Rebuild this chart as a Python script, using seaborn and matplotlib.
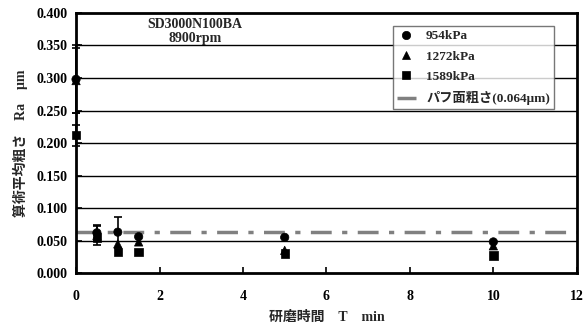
import numpy as np
import pandas as pd
import matplotlib
matplotlib.use("Agg")
import matplotlib.pyplot as plt
import seaborn as sns

sns.set_theme(style="white")
plt.rcParams['font.family'] = ['Liberation Serif', 'Noto Sans CJK JP']
plt.rcParams['font.weight'] = 'bold'

# データ
tiempo = [0, 0.5, 1, 1.5, 5, 10]
ra954 = [0.298, 0.062, 0.063, 0.056, 0.055, 0.048]
err954 = [0.052, 0.012, 0.024, 0.0, 0.0, 0.0]
ra1272 = [0.296, 0.058, 0.045, 0.048, 0.035, 0.042]
err1272 = [0.05, 0.015, 0.0, 0.0, 0.0, 0.0]
ra1589 = [0.212, 0.055, 0.033, 0.032, 0.030, 0.027]
err1589 = [0.016, 0.0, 0.0, 0.0, 0.0, 0.0]
series = ["954kPa", "1272kPa", "1589kPa"]
bufRa = 0.064
bufLabel = "パフ面粗さ(0.064μm)"

df = pd.DataFrame({
    'T': tiempo * 3,
    'Ra': ra954 + ra1272 + ra1589,
    'err': err954 + err1272 + err1589,
    'cond': [s for s in series for _ in tiempo],
})

fig = plt.figure(figsize=(5.85, 3.24), dpi=100)
ax = fig.add_axes([0.13, 0.157, 0.856, 0.803])

for y in np.arange(0.05, 0.40, 0.05):
    ax.axhline(y, color='black', lw=1.0, zorder=1)

sub = df[df['err'] > 0]
eb = ax.errorbar(sub['T'], sub['Ra'], yerr=sub['err'], fmt='none', ecolor='black',
                 elinewidth=1.2, capsize=3, capthick=1.2, zorder=3)
for art in eb.lines[1] + eb.lines[2]:
    art.set_clip_on(False)

sns.scatterplot(data=df, x='T', y='Ra', style='cond', style_order=series,
                markers={"954kPa": 'o', "1272kPa": '^', "1589kPa": 's'},
                color='black', s=36, edgecolor='black', linewidth=0.5,
                ax=ax, zorder=4, legend=True, clip_on=False)

ax.axhline(bufRa, color='#808080', lw=2.5, linestyle=(0, (6, 3, 1.5, 3)),
           zorder=2, label=bufLabel)

ax.set_xlim(0, 12)
ax.set_ylim(0, 0.4)
ax.set_xticks([0, 2, 4, 6, 8, 10, 12])
ax.set_yticks(np.arange(0, 0.401, 0.05))
ax.set_yticklabels([f"{v:.3f}" for v in np.arange(0, 0.401, 0.05)])
ax.tick_params(direction='in', length=4, width=1.2, labelsize=10, colors='black',
               bottom=True, left=True)
ax.tick_params(axis='x', pad=12)
ax.tick_params(axis='y', pad=6)
for lbl in ax.get_xticklabels() + ax.get_yticklabels():
    lbl.set_fontweight('bold')
for sp in ax.spines.values():
    sp.set_color('black')
    sp.set_linewidth(2)

ax.set_xlabel("研磨時間　T　min", fontsize=10, fontweight='bold', labelpad=6)
ax.set_ylabel("算術平均粗さ　Ra　μm", fontsize=10, fontweight='bold', labelpad=6)

ax.text(2.85, 0.392, "SD3000N100BA\n8900rpm", ha='center', va='top',
        fontsize=10, fontweight='bold', linespacing=1.05)

handles, labels = ax.get_legend_handles_labels()
for h in handles[:3]:
    h.set_markersize(6)
leg = ax.legend(handles, labels, loc='upper left', bbox_to_anchor=(0.62, 0.975),
                frameon=True, fancybox=False, edgecolor='#555555',
                handlelength=1.4, handletextpad=0.8, labelspacing=0.62, borderpad=0.3,
                prop={'weight': 'bold', 'size': 9.5})
leg.get_frame().set_linewidth(1.0)

fig.savefig("out.png", dpi=100)
